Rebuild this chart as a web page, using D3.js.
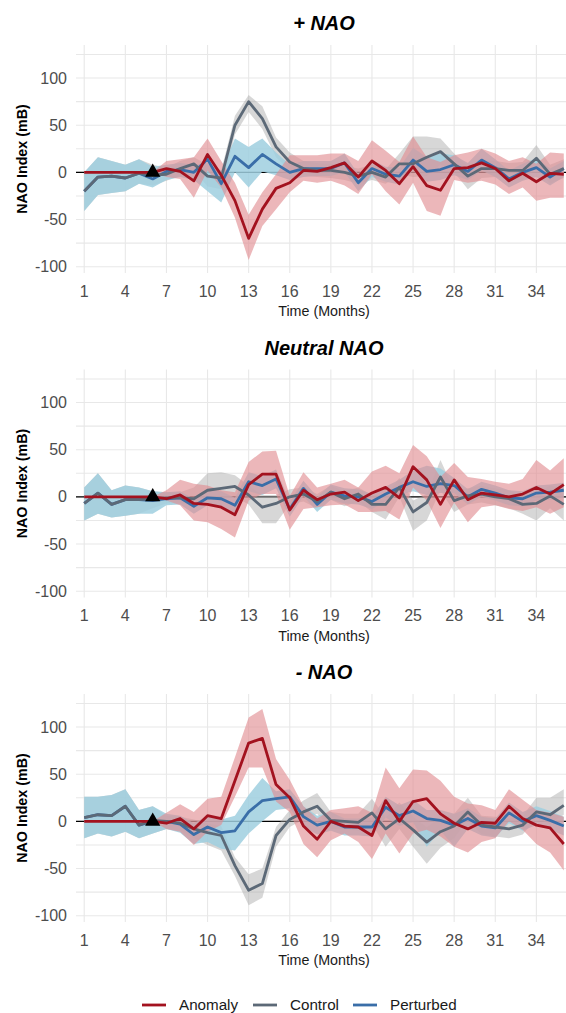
<!DOCTYPE html>
<html>
<head>
<meta charset="utf-8">
<script src="https://cdn.jsdelivr.net/npm/d3@7"></script>
<style>
  body { margin: 0; background: #fff; }
  text { font-family: "Liberation Sans", Arial, Helvetica, sans-serif; }
</style>
</head>
<body>
<div id="chart"></div>
<script>
// NAO response composites: anomaly / control / perturbed, three phases

const months = [1, 2, 3, 4, 5, 6, 7, 8, 9, 10, 11, 12, 13, 14, 15, 16, 17, 18,
                19, 20, 21, 22, 23, 24, 25, 26, 27, 28, 29, 30, 31, 32, 33, 34, 35, 36];
const xTicks = [1, 4, 7, 10, 13, 16, 19, 22, 25, 28, 31, 34];
const yTicks = [-100, -50, 0, 50, 100];
const yMinorTicks = [-75, -25, 25, 75, 125];
const perturbMonth = 6;
const panelTitles = ["+ NAO", "Neutral NAO", "- NAO"];
const seriesNames = ["Anomaly", "Control", "Perturbed"];

// + NAO
const plusAnomaly   = [0, 0, 0, 0, 0, 0, 4, 1, -9, 19, -3, -30, -70, -39, -17, -11, 2, 1, 5, 10, -5, 12, 2, -12, 6, -14, -19, 4, 5, 10, 4, -9, -1, -10, -1, -2];
const plusAnomalyLo = [0, 0, 0, 0, 0, 0, -5, -7, -27, 2, -16, -48, -93, -57, -39, -21, -9, -11, -9, -14, -23, -2, -20, -34, -11, -41, -46, -8, -11, -9, -13, -23, -16, -30, -27, -27];
const plusAnomalyHi = [0, 0, 0, 0, 0, 0, 12, 14, 16, 36, 12, -11, -45, -21, -2, 18, 18, 18, 20, 20, 12, 34, 23, 11, 38, 16, 11, 18, 21, 25, 20, 12, 16, 9, 21, 20];
const plusControl   = [-20, -5, -4, -6, -1, -3, -2, 4, 9, -4, -6, 50, 75, 57, 27, 11, 4, 2, 2, 0, -4, 0, -5, 9, 9, 16, 22, 9, -4, 4, 4, 2, 2, 15, -2, 4];
const plusControlLo = [-41, -24, -22, -20, -12, -14, -9, -4, 2, -15, -18, 40, 64, 46, 16, 2, -3, -5, -6, -8, -12, -8, -12, -2, -5, -4, 8, 0, -18, -6, -5, -8, -8, 4, -12, -6];
const plusControlHi = [0, 16, 12, 8, 14, 8, 5, 12, 16, 8, 2, 60, 82, 70, 37, 21, 12, 10, 9, 7, 4, 8, 3, 20, 38, 38, 36, 20, 7, 13, 12, 10, 11, 29, 8, 14];
const plusPerturbed   = [-20, -5, -4, -6, -1, -7, 1, 3, 0, 14, -12, 17, 5, 19, 9, 0, 4, 4, 4, 10, -11, 4, -2, -4, 13, 1, 3, 8, 1, 13, 5, -7, 0, 5, -5, 4];
const plusPerturbedLo = [-41, -24, -22, -20, -12, -16, -8, -5, -8, -20, -32, 0, -16, 1, -3, -8, -5, -4, -4, 0, -20, -5, -10, -13, 2, -10, -8, -3, -8, 2, -5, -16, -9, -5, -14, -5];
const plusPerturbedHi = [0, 16, 12, 8, 14, 6, 8, 10, 8, 10, 2, 36, 27, 36, 21, 8, 12, 12, 12, 20, -2, 13, 6, 5, 26, 16, 20, 18, 10, 25, 14, 2, 9, 15, 4, 12];

// Neutral NAO
const neutAnomaly   = [0, 0, 0, 0, 0, 0, -2, 2, -7, -8, -11, -19, 13, 24, 24, -14, 7, -3, 3, 5, -4, 4, 10, -1, 32, 18, -8, 18, -3, 4, 2, 0, 3, 10, 3, 13];
const neutAnomalyLo = [0, 0, 0, 0, 0, 0, -4, -9, -25, -27, -34, -43, -4, 3, 3, -35, -13, -11, -9, -8, -16, -16, -15, -24, 10, -4, -33, -6, -27, -11, -9, -13, -15, -11, -18, -11];
const neutAnomalyHi = [0, 0, 0, 0, 0, 0, 7, 18, 14, 12, 7, 5, 37, 48, 49, 1, 26, 10, 14, 18, 10, 27, 33, 25, 55, 43, 21, 36, 21, 19, 16, 14, 19, 39, 28, 41];
const neutControl   = [-7, 4, -8, -3, -3, -2, -1, -1, -2, 7, 9, 11, 2, -11, -7, 0, 3, -5, 5, -2, 3, -8, -8, 10, -16, -6, 21, -4, 1, 3, 0, -2, -8, -7, 1, -8];
const neutControlLo = [-25, -18, -22, -20, -18, -12, -7, -7, -8, -4, -3, 0, -8, -28, -28, -8, -5, -12, -3, -10, -5, -16, -24, 0, -36, -25, 7, -16, -8, -6, -9, -12, -18, -25, -12, -25];
const neutControlHi = [10, 25, 7, 12, 10, 6, 5, 5, 10, 25, 26, 23, 12, 2, 2, 8, 10, 3, 12, 6, 10, 2, 2, 20, -4, 3, 39, 7, 9, 12, 9, 7, 2, 4, 12, 9];
const neutPerturbed   = [-7, 4, -8, -3, -3, -4, -2, -1, -10, -1, -2, -9, 16, 12, 19, -13, 9, -8, 5, 1, 0, -5, 3, 10, 16, 11, 14, 12, 0, 8, 4, -1, -2, 4, 5, 7];
const neutPerturbedLo = [-25, -18, -22, -20, -18, -18, -9, -8, -18, -9, -10, -17, 6, 2, 9, -21, 1, -16, -3, -7, -8, -13, -5, 2, 6, 2, 4, 4, -8, 0, -4, -9, -10, -4, -3, -1];
const neutPerturbedHi = [10, 25, 7, 12, 10, 6, 5, 6, -2, 7, 6, -1, 26, 22, 29, -5, 17, 0, 13, 9, 8, 3, 11, 18, 28, 33, 30, 20, 8, 16, 12, 7, 6, 12, 13, 15];

// - NAO
const minusAnomaly   = [0, 0, 0, 0, 0, 0, -2, 3, -8, 6, 3, 43, 83, 88, 39, 25, -5, -19, 0, -5, -6, -15, 22, 0, 21, 24, 8, -2, -8, -1, -2, 16, 3, -4, -7, -24];
const minusAnomalyLo = [0, 0, 0, 0, 0, 0, -8, -11, -25, -11, -4, 26, 57, 57, 21, 10, -24, -38, -20, -13, -22, -40, -13, -34, -13, -9, -16, -27, -33, -22, -18, 0, -9, -24, -33, -52];
const minusAnomalyHi = [0, 0, 0, 0, 0, 0, 9, 18, 10, 24, 26, 68, 110, 119, 66, 44, 16, 3, 12, 14, 16, 9, 57, 35, 55, 54, 43, 26, 19, 17, 12, 34, 23, 12, 9, 5];
const minusControl   = [4, 7, 6, 16, -4, 1, 0, -2, -8, -12, -15, -47, -73, -66, -15, 2, 10, 16, 1, 0, -1, 9, -8, 3, -9, -22, -11, -5, 10, -4, -6, -8, -4, 10, 7, 17];
const minusControlLo = [-18, -13, -16, -11, -18, -13, -8, -10, -18, -25, -31, -58, -89, -81, -27, -6, 2, 8, -8, -8, -10, -3, -27, -8, -27, -45, -28, -18, 1, -14, -16, -18, -14, 3, -3, 7];
const minusControlHi = [26, 26, 28, 34, 12, 16, 6, 5, 2, -2, -5, -38, -56, -50, -6, 12, 22, 30, 10, 8, 8, 24, 4, 20, 5, -6, 4, 8, 25, 6, 5, 3, 6, 25, 25, 34];
const minusPerturbed   = [4, 7, 6, 16, -4, 0, 0, -3, -14, -6, -12, -10, 10, 22, 24, 26, 5, -4, 0, -6, -6, -6, 15, 6, 11, 3, 1, -4, 3, -5, -7, 9, 0, 6, 1, -5];
const minusPerturbedLo = [-18, -13, -16, -11, -18, -13, -8, -12, -24, -22, -29, -31, -13, 0, 12, 14, -6, -14, -10, -15, -15, -16, 4, -5, -1, -27, -10, -27, -8, -15, -17, -2, -10, -4, -9, -15];
const minusPerturbedHi = [26, 26, 28, 34, 12, 16, 8, 6, -2, 6, 2, 6, 28, 46, 32, 34, 16, 6, 10, 3, 3, 4, 26, 17, 23, 12, 12, 8, 14, 5, 3, 20, 10, 16, 11, 5];

// ---- layout ----
const W = 566, H = 1013;
const panelLeft = 76, panelRight = 572;
const panelH = 228, panelStep = 324.5, firstTop = 45;

const colors = { Anomaly: "#a3121f", Control: "#5c6977", Perturbed: "#3a6ea8" };
const fills = { Anomaly: "#e08a90", Control: "#a6a6a6", Perturbed: "#9fcfdf" };
const fillOpacity = { Anomaly: 0.62, Control: 0.45, Perturbed: 0.85 };

const panels = [
  { title: panelTitles[0],
    Anomaly: [plusAnomaly, plusAnomalyLo, plusAnomalyHi],
    Control: [plusControl, plusControlLo, plusControlHi],
    Perturbed: [plusPerturbed, plusPerturbedLo, plusPerturbedHi] },
  { title: panelTitles[1],
    Anomaly: [neutAnomaly, neutAnomalyLo, neutAnomalyHi],
    Control: [neutControl, neutControlLo, neutControlHi],
    Perturbed: [neutPerturbed, neutPerturbedLo, neutPerturbedHi] },
  { title: panelTitles[2],
    Anomaly: [minusAnomaly, minusAnomalyLo, minusAnomalyHi],
    Control: [minusControl, minusControlLo, minusControlHi],
    Perturbed: [minusPerturbed, minusPerturbedLo, minusPerturbedHi] }
];

const svg = d3.select("#chart").append("svg")
    .attr("width", W)
    .attr("height", H);

// months are discrete, so the panel runs 0.6 of a month past each end
const x = d3.scaleLinear().domain([0.4, 36.6]).range([panelLeft, panelRight]);

panels.forEach((p, i) => {
    const top = firstTop + i * panelStep;
    const y = d3.scaleLinear().domain([-106.7, 135]).range([top + panelH, top]);
    const g = svg.append("g");

    // gridlines
    g.selectAll(".ygrid").data(yTicks.concat(yMinorTicks)).enter().append("line")
        .attr("x1", panelLeft).attr("x2", panelRight)
        .attr("y1", d => y(d)).attr("y2", d => y(d))
        .attr("stroke", "#e8e8e8").attr("stroke-width", 1.1);
    g.selectAll(".xgrid").data(xTicks).enter().append("line")
        .attr("x1", d => x(d)).attr("x2", d => x(d))
        .attr("y1", top).attr("y2", top + panelH)
        .attr("stroke", "#e8e8e8").attr("stroke-width", 1.1);

    // zero line
    g.append("line")
        .attr("x1", panelLeft).attr("x2", panelRight)
        .attr("y1", y(0)).attr("y2", y(0))
        .attr("stroke", "#000").attr("stroke-width", 1.1);

    // ribbons
    ["Control", "Perturbed", "Anomaly"].forEach(name => {
        const [mean, lo, hi] = p[name];
        const area = d3.area()
            .x((d, k) => x(months[k]))
            .y0((d, k) => y(lo[k]))
            .y1((d, k) => y(hi[k]));
        g.append("path")
            .datum(mean)
            .attr("d", area)
            .attr("fill", fills[name])
            .attr("fill-opacity", fillOpacity[name]);
    });

    // lines
    ["Perturbed", "Control", "Anomaly"].forEach(name => {
        const mean = p[name][0];
        const line = d3.line()
            .x((d, k) => x(months[k]))
            .y(d => y(d));
        g.append("path")
            .datum(mean)
            .attr("d", line)
            .attr("fill", "none")
            .attr("stroke", colors[name])
            .attr("stroke-width", 2.8)
            .attr("stroke-linejoin", "round");
    });

    // perturbation marker
    g.append("path")
        .attr("d", d3.symbol(d3.symbolTriangle).size(100)())
        .attr("transform", `translate(${x(perturbMonth)},${y(0)})`)
        .attr("fill", "#000");

    // tick labels
    g.selectAll(".ylab").data(yTicks).enter().append("text")
        .attr("x", 67).attr("y", d => y(d) + 5.5)
        .attr("text-anchor", "end")
        .attr("font-size", 16).attr("fill", "#4d4d4d")
        .text(d => d);
    g.selectAll(".xlab").data(xTicks).enter().append("text")
        .attr("x", d => x(d)).attr("y", top + panelH + 23.5)
        .attr("text-anchor", "middle")
        .attr("font-size", 16).attr("fill", "#4d4d4d")
        .text(d => d);

    // axis titles
    g.append("text")
        .attr("x", (panelLeft + panelRight) / 2).attr("y", top + panelH + 43)
        .attr("text-anchor", "middle")
        .attr("font-size", 14.3).attr("fill", "#1a1a1a")
        .text("Time (Months)");
    g.append("text")
        .attr("transform", `translate(27,${top + panelH / 2}) rotate(-90)`)
        .attr("text-anchor", "middle")
        .attr("font-size", 14.3).attr("font-weight", "bold").attr("fill", "#000")
        .text("NAO Index (mB)");

    // panel title
    g.append("text")
        .attr("x", (panelLeft + panelRight) / 2).attr("y", top - 15)
        .attr("text-anchor", "middle")
        .attr("font-size", 20).attr("font-weight", "bold").attr("font-style", "italic")
        .attr("fill", "#000")
        .text(p.title);
});

// legend
const legendX = [142, 253, 353];
const legendY = 1005;
const legend = svg.append("g");
seriesNames.forEach((name, k) => {
    legend.append("line")
        .attr("x1", legendX[k]).attr("x2", legendX[k] + 24)
        .attr("y1", legendY).attr("y2", legendY)
        .attr("stroke", colors[name]).attr("stroke-width", 2.8);
    legend.append("text")
        .attr("x", legendX[k] + 37).attr("y", legendY + 5.3)
        .attr("font-size", 15.2).attr("fill", "#1a1a1a")
        .text(name);
});
</script>
</body>
</html>
